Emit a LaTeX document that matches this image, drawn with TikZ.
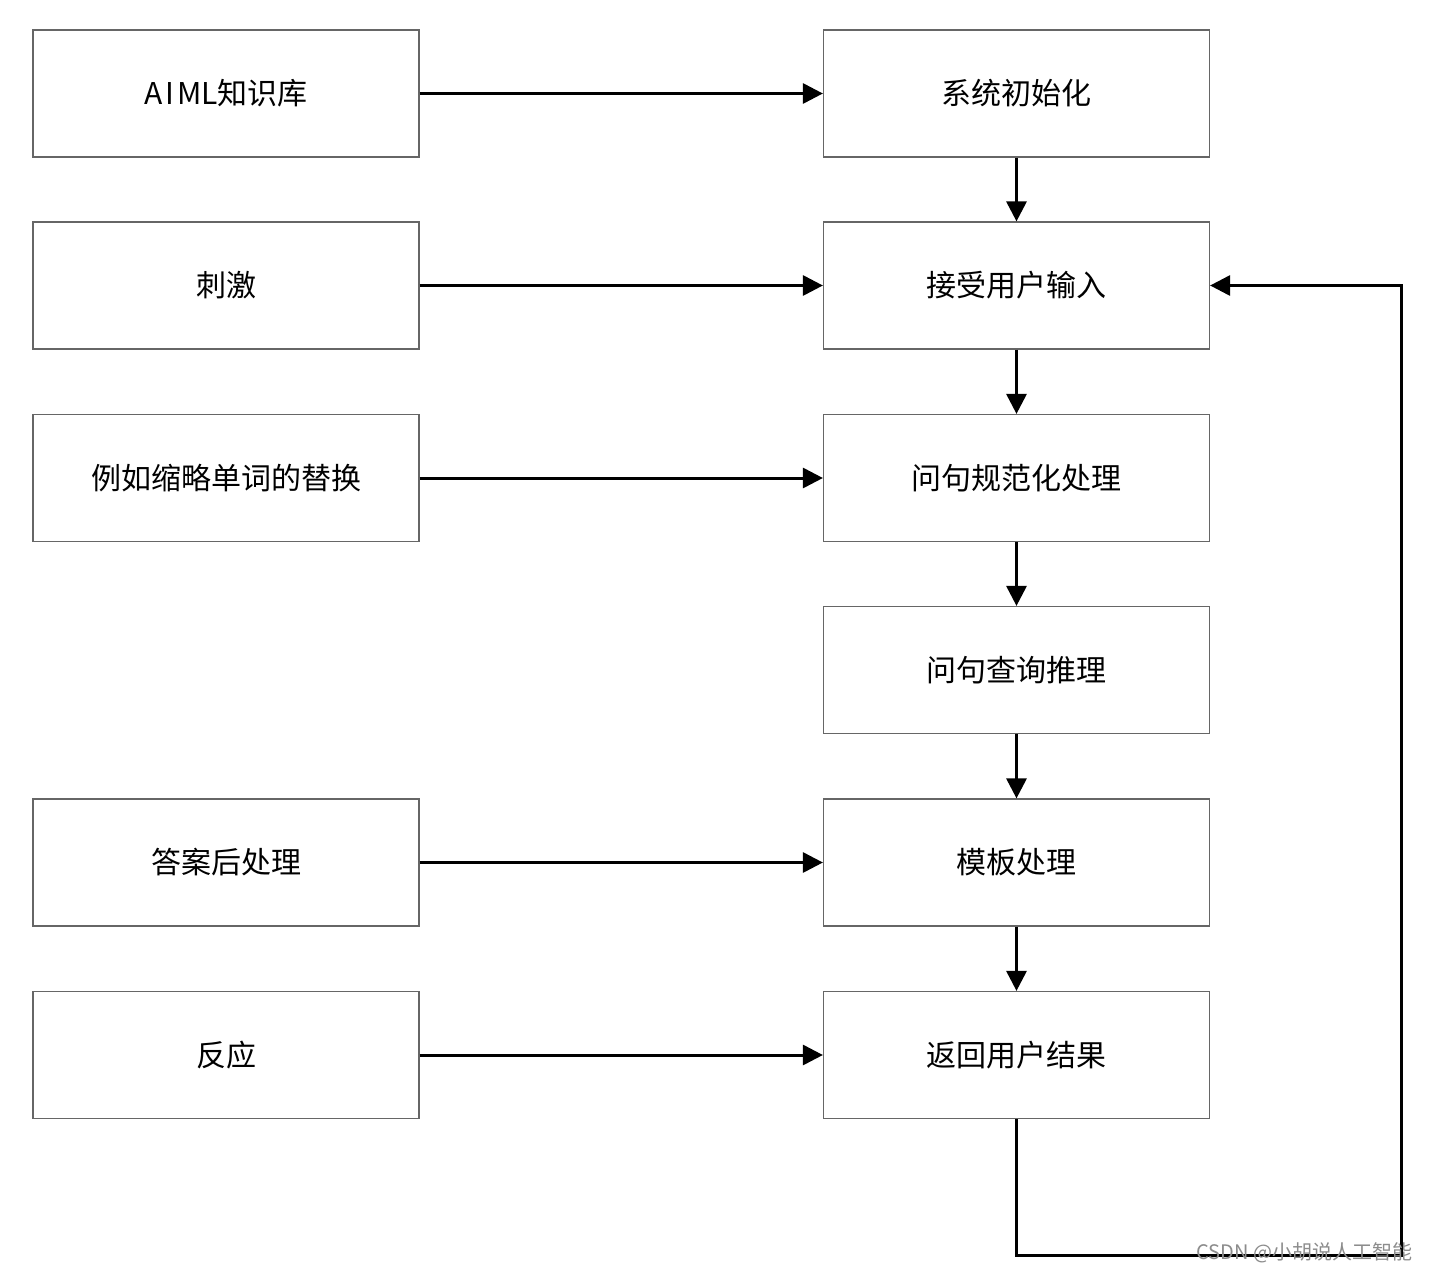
\documentclass[tikz,border=0pt]{standalone}
\usepackage{fontspec}
\setmainfont{Noto Sans CJK SC}
\usetikzlibrary{arrows.meta}
\begin{document}
\begin{tikzpicture}[x=1pt,y=-1pt,
  box/.style={draw=black!60,line width=1.2pt,minimum width=386pt,minimum height=127pt,inner sep=0pt,font=\fontsize{30}{33}\selectfont},
  conn/.style={line width=3pt,-{Triangle[length=20pt,width=20pt]}},
  loopline/.style={line width=3pt}]
\useasboundingbox (0,0) rectangle (1430,1274);
\fill[white] (0,0) rectangle (1430,1274);
% left column
\node[box] (a1) at (226,93.5) {A\hspace{3pt}I\hspace{3pt}ML知识库};
\node[box] (a2) at (226,285.5) {刺激};
\node[box] (a3) at (226,478) {例如缩略单词的替换};
\node[box] (a5) at (226,862.5) {答案后处理};
\node[box] (a6) at (226,1055) {反应};
% right column
\node[box] (b1) at (1016.5,93.5) {系统初始化};
\node[box] (b2) at (1016.5,285.5) {接受用户输入};
\node[box] (b3) at (1016.5,478) {问句规范化处理};
\node[box] (b4) at (1016.5,670) {问句查询推理};
\node[box] (b5) at (1016.5,862.5) {模板处理};
\node[box] (b6) at (1016.5,1055) {返回用户结果};
% horizontal arrows
\draw[conn] (a1) -- (b1);
\draw[conn] (a2) -- (b2);
\draw[conn] (a3) -- (b3);
\draw[conn] (a5) -- (b5);
\draw[conn] (a6) -- (b6);
% vertical arrows
\draw[conn] (b1) -- (b2);
\draw[conn] (b2) -- (b3);
\draw[conn] (b3) -- (b4);
\draw[conn] (b4) -- (b5);
\draw[conn] (b5) -- (b6);
% feedback loop
\coordinate (c1) at (1016.5,1255);
\coordinate (c2) at (1401,1255);
\coordinate (c3) at (1401,285.5);
\draw[loopline,-{Triangle[length=20pt,width=20pt]}] (b6.south) -- (c1) -- (c2) -- (c3) -- (b2.east);
% watermark
\node[text=black!45,font=\fontsize{20}{22}\selectfont,anchor=east] (wm) at (1416,1253) {CSDN @小胡说人工智能};
\end{tikzpicture}
\end{document}
